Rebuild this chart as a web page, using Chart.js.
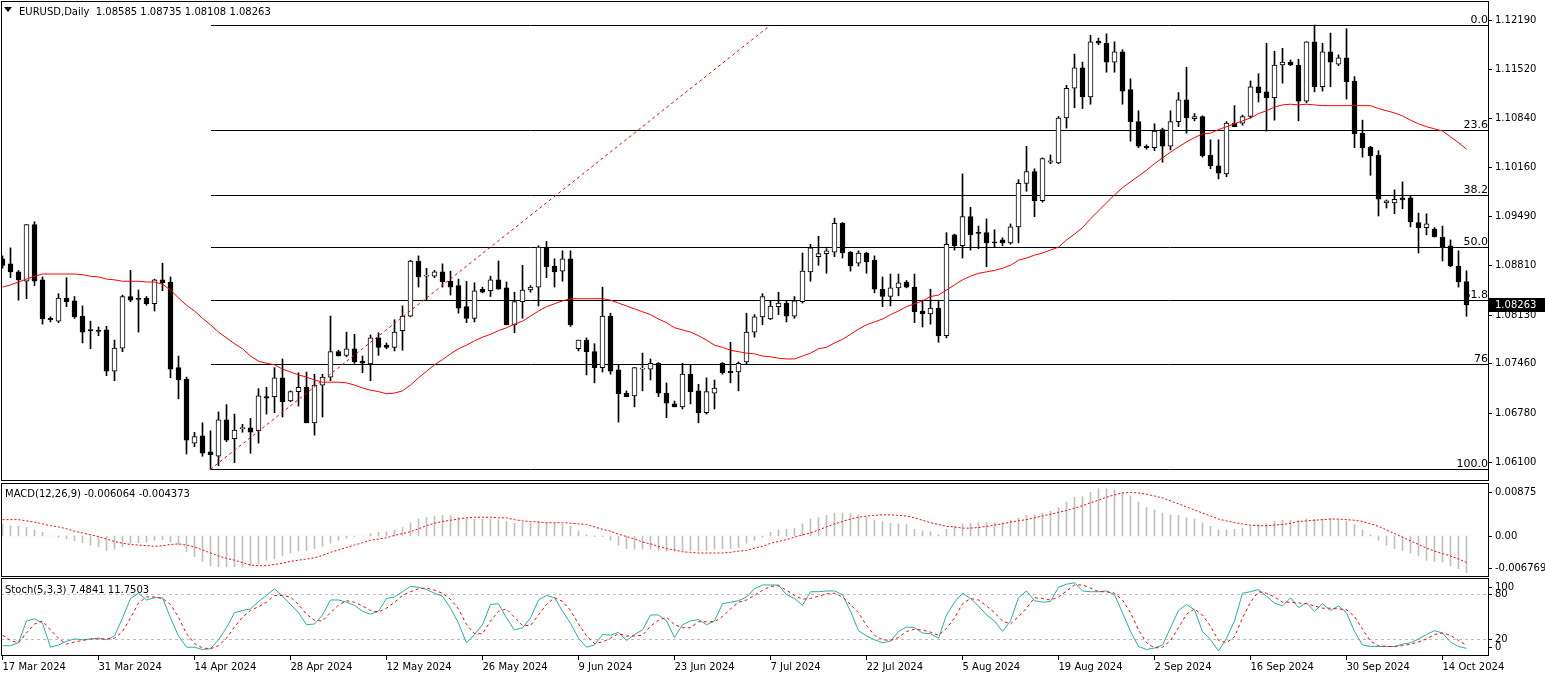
<!DOCTYPE html>
<html lang="en">
<head>
<meta charset="UTF-8">
<title>EURUSD Daily</title>
<script src="https://cdn.jsdelivr.net/npm/chart.js"></script>
<style>
    body { margin: 0; background: #fff; }
    .wrap { position: relative; width: 1545px; height: 673px; overflow: hidden; }
    canvas { position: absolute; left: 0; }
    #mainChart { top: 0; }
    #macdChart { top: 482px; }
    #stochChart { top: 578px; }
</style>
</head>
<body>
<div class="wrap">
    <canvas id="mainChart" width="1545" height="482"></canvas>
    <canvas id="macdChart" width="1545" height="96"></canvas>
    <canvas id="stochChart" width="1545" height="95"></canvas>
</div>
<script>
const FONT = '10px "DejaVu Sans"';

const dateTicks = ['17 Mar 2024', '31 Mar 2024', '14 Apr 2024', '28 Apr 2024', '12 May 2024', '26 May 2024',
    '9 Jun 2024', '23 Jun 2024', '7 Jul 2024', '22 Jul 2024', '5 Aug 2024', '19 Aug 2024',
    '2 Sep 2024', '16 Sep 2024', '30 Sep 2024', '14 Oct 2024'];

// daily candles, one entry per bar
const open = [
    1.0890,1.0883,1.0872,1.0859,1.0937,1.0861,1.0808,1.0804,1.0836,1.0832,
    1.0811,1.0792,1.0791,1.0792,1.0735,1.0767,1.0838,1.0835,1.0836,1.0828,
    1.0861,1.0858,1.0740,1.0724,1.0636,1.0646,1.0624,1.0618,1.0668,1.0642,
    1.0656,1.0657,1.0653,1.0700,1.0700,1.0726,1.0694,1.0707,1.0713,1.0664,
    1.0716,1.0727,1.0762,1.0757,1.0766,1.0749,1.0745,1.0781,1.0771,1.0768,
    1.0791,1.0811,1.0887,1.0866,1.0866,1.0872,1.0859,1.0853,1.0824,1.0808,
    1.0848,1.0846,1.0861,1.0850,1.0799,1.0831,1.0847,1.0851,1.0905,1.0880,
    1.0873,1.0890,1.0766,1.0778,1.0762,1.0740,1.0811,1.0737,1.0705,1.0701,
    1.0738,1.0738,1.0746,1.0705,1.0690,1.0686,1.0731,1.0708,1.0678,1.0705,
    1.0746,1.0735,1.0734,1.0748,1.0789,1.0810,1.0807,1.0824,1.0829,1.0811,
    1.0831,1.0872,1.0893,1.0897,1.0899,1.0939,1.0899,1.0884,1.0898,1.0888,
    1.0848,1.0838,1.0850,1.0858,1.0851,1.0818,1.0814,1.0822,1.0784,1.0923,
    1.0908,1.0948,1.0926,1.0926,1.0913,1.0916,1.0912,1.0934,1.0994,1.1010,
    1.0970,1.1023,1.1022,1.1084,1.1125,1.1153,1.1113,1.1190,1.1187,1.1161,
    1.1175,1.1123,1.1079,1.1045,1.1043,1.1068,1.1045,1.1079,1.1109,1.1083,
    1.1086,1.1033,1.1018,1.1007,1.1077,1.1077,1.1086,1.1127,1.1120,1.1112,
    1.1157,1.1161,1.1157,1.1107,1.1189,1.1127,1.1175,1.1158,1.1167,1.1135,
    1.1063,1.1044,1.1033,1.0967,1.0967,1.0974,1.0974,1.0940,1.0933,1.0931,
    1.0920,1.0908,1.0880,1.08585
];
const high = [
    1.0894,1.0905,1.0874,1.0937,1.0941,1.0865,1.0810,1.0842,1.0864,1.0838,
    1.0825,1.0804,1.0796,1.0797,1.0778,1.0840,1.0874,1.0847,1.0838,1.0862,
    1.0884,1.0865,1.0756,1.0727,1.0651,1.0664,1.0653,1.0679,1.0689,1.0676,
    1.0662,1.0670,1.0711,1.0713,1.0740,1.0752,1.0708,1.0733,1.0734,1.0731,
    1.0731,1.0811,1.0764,1.0789,1.0786,1.0756,1.0785,1.0788,1.0774,1.0806,
    1.0825,1.0888,1.0894,1.0877,1.0874,1.0883,1.0873,1.0862,1.0859,1.0857,
    1.0851,1.0866,1.0887,1.0858,1.0844,1.0881,1.0853,1.0908,1.0914,1.0890,
    1.0901,1.0901,1.0778,1.0781,1.0773,1.0851,1.0815,1.0744,1.0708,1.0740,
    1.0760,1.0752,1.0747,1.0719,1.0694,1.0746,1.0744,1.0717,1.0726,1.0723,
    1.0747,1.0775,1.0748,1.0815,1.0813,1.0842,1.0832,1.0844,1.0832,1.0838,
    1.0898,1.0910,1.0921,1.0904,1.0946,1.0940,1.0900,1.0901,1.0899,1.0894,
    1.0865,1.0869,1.0869,1.0860,1.0869,1.0833,1.0848,1.0833,1.0926,1.0924,
    1.1007,1.0961,1.0935,1.0945,1.0930,1.0919,1.0938,1.0999,1.1045,1.1014,
    1.1029,1.1033,1.1086,1.1129,1.1172,1.1161,1.1198,1.1194,1.1200,1.1189,
    1.1178,1.1138,1.1094,1.1047,1.1076,1.1070,1.1094,1.1119,1.1154,1.1090,
    1.1087,1.1054,1.1054,1.1079,1.1101,1.1088,1.1135,1.1145,1.1187,1.1176,
    1.1180,1.1164,1.1165,1.1189,1.1212,1.1187,1.1201,1.1171,1.1207,1.1141,
    1.1081,1.1045,1.1039,1.0971,1.0985,1.0996,1.0977,1.0953,1.0952,1.0933,
    1.0935,1.0916,1.0901,1.08735
];
const low = [
    1.0877,1.0864,1.0833,1.0835,1.0853,1.0800,1.0803,1.0802,1.0824,1.0808,
    1.0774,1.0766,1.0784,1.0729,1.0722,1.0762,1.0831,1.0789,1.0826,1.0818,
    1.0846,1.0726,1.0697,1.0621,1.0631,1.0618,1.0600,1.0605,1.0638,1.0609,
    1.0651,1.0622,1.0636,1.0676,1.0678,1.0672,1.0693,1.0687,1.0664,1.0647,
    1.0672,1.0722,1.0756,1.0755,1.0746,1.0733,1.0722,1.0757,1.0766,1.0763,
    1.0764,1.0810,1.0851,1.0833,1.0864,1.0851,1.0840,1.0815,1.0802,1.0803,
    1.0843,1.0838,1.0848,1.0799,1.0788,1.0808,1.0844,1.0825,1.0864,1.0851,
    1.0859,1.0797,1.0763,1.0730,1.0719,1.0734,1.0731,1.0665,1.0700,1.0686,
    1.0708,1.0723,1.0700,1.0671,1.0686,1.0683,1.0690,1.0664,1.0676,1.0683,
    1.0731,1.0719,1.0708,1.0745,1.0782,1.0799,1.0806,1.0813,1.0803,1.0808,
    1.0829,1.0859,1.0881,1.0870,1.0893,1.0891,1.0873,1.0880,1.0870,1.0843,
    1.0824,1.0825,1.0839,1.0850,1.0802,1.0796,1.0800,1.0775,1.0781,1.0902,
    1.0891,1.0902,1.0904,1.0879,1.0906,1.0908,1.0910,1.0912,1.0983,1.0948,
    1.0968,1.1021,1.1021,1.1070,1.1098,1.1097,1.1103,1.1185,1.1147,1.1147,
    1.1103,1.1052,1.1043,1.1041,1.1039,1.1023,1.1040,1.1072,1.1063,1.1080,
    1.1030,1.1014,1.1000,1.1003,1.1072,1.1074,1.1084,1.1106,1.1066,1.1081,
    1.1132,1.1156,1.1080,1.1105,1.1120,1.1121,1.1127,1.1156,1.1110,1.1043,
    1.1030,1.1005,1.0949,1.0960,1.0952,1.0959,1.0934,1.0898,1.0923,1.0920,
    1.0887,1.0879,1.0851,1.08108
];
const close = [
    1.0881,1.0872,1.0861,1.0937,1.0859,1.0807,1.0806,1.0836,1.0831,1.0810,
    1.0789,1.0791,1.0790,1.0735,1.0767,1.0838,1.0833,1.0834,1.0828,1.0861,
    1.0857,1.0738,1.0723,1.0640,1.0645,1.0622,1.0620,1.0668,1.0640,1.0654,
    1.0657,1.0651,1.0701,1.0698,1.0726,1.0693,1.0707,1.0713,1.0664,1.0716,
    1.0727,1.0762,1.0756,1.0766,1.0748,1.0746,1.0781,1.0768,1.0768,1.0789,
    1.0811,1.0887,1.0865,1.0867,1.0872,1.0858,1.0851,1.0822,1.0808,1.0846,
    1.0844,1.0861,1.0848,1.0799,1.0831,1.0847,1.0851,1.0906,1.0879,1.0872,
    1.0890,1.0799,1.0778,1.0762,1.0740,1.0811,1.0735,1.0704,1.0700,1.0740,
    1.0739,1.0746,1.0705,1.0691,1.0686,1.0731,1.0707,1.0678,1.0707,1.0712,
    1.0733,1.0733,1.0746,1.0789,1.0810,1.0838,1.0825,1.0829,1.0811,1.0832,
    1.0873,1.0905,1.0897,1.0901,1.0939,1.0898,1.0880,1.0898,1.0886,1.0848,
    1.0838,1.0850,1.0857,1.0851,1.0817,1.0814,1.0822,1.0784,1.0910,1.0908,
    1.0948,1.0923,1.0925,1.0912,1.0912,1.0912,1.0934,1.0994,1.1010,1.0970,
    1.1028,1.1025,1.1084,1.1125,1.1153,1.1113,1.1189,1.1187,1.1161,1.1175,
    1.1121,1.1079,1.1045,1.1043,1.1066,1.1045,1.1079,1.1109,1.1084,1.1086,
    1.1032,1.1018,1.1008,1.1077,1.1072,1.1086,1.1127,1.1119,1.1112,1.1157,
    1.1161,1.1157,1.1107,1.1189,1.1127,1.1175,1.1161,1.1167,1.1134,1.1062,
    1.1043,1.1032,1.0972,1.0970,1.0972,1.0971,1.0941,1.0933,1.0938,1.0920,
    1.0906,1.0880,1.0858,1.08263
];

// red moving average over the candles
const ma = [
    1.0851,1.0854,1.0858,1.0862,1.0866,1.0869,1.0869,1.0869,1.0869,1.0869,
    1.0868,1.0866,1.0865,1.0862,1.0861,1.0859,1.0859,1.0859,1.0858,1.0858,
    1.0855,1.0847,1.0836,1.0826,1.0818,1.0808,1.0799,1.0789,1.0781,1.0773,
    1.0766,1.0756,1.0749,1.0746,1.0744,1.0738,1.0734,1.0730,1.0727,1.0723,
    1.0720,1.0720,1.0720,1.0719,1.0716,1.0712,1.0709,1.0707,1.0704,1.0705,
    1.0708,1.0716,1.0726,1.0735,1.0744,1.0751,1.0759,1.0766,1.0771,1.0777,
    1.0782,1.0786,1.0791,1.0795,1.0800,1.0804,1.0811,1.0818,1.0824,1.0828,
    1.0832,1.0835,1.0835,1.0835,1.0835,1.0835,1.0833,1.0829,1.0825,1.0821,
    1.0817,1.0813,1.0807,1.0802,1.0795,1.0792,1.0789,1.0784,1.0778,1.0771,
    1.0768,1.0764,1.0762,1.0760,1.0759,1.0756,1.0755,1.0753,1.0752,1.0752,
    1.0756,1.0760,1.0766,1.0768,1.0774,1.0779,1.0786,1.0793,1.0799,1.0803,
    1.0807,1.0813,1.0818,1.0824,1.0828,1.0832,1.0838,1.0840,1.0847,1.0854,
    1.0861,1.0866,1.0870,1.0872,1.0874,1.0877,1.0881,1.0888,1.0891,1.0895,
    1.0898,1.0902,1.0906,1.0916,1.0924,1.0933,1.0945,1.0956,1.0967,1.0978,
    1.0988,1.0996,1.1004,1.1012,1.1021,1.1029,1.1037,1.1044,1.1051,1.1057,
    1.1062,1.1063,1.1068,1.1072,1.1076,1.1080,1.1084,1.1090,1.1094,1.1099,
    1.1102,1.1103,1.1102,1.1103,1.1102,1.1101,1.1101,1.1101,1.1101,1.1101,
    1.1101,1.1101,1.1097,1.1094,1.1091,1.1087,1.1081,1.1076,1.1072,1.1069,
    1.1066,1.1058,1.1050,1.1041
];

// MACD(12,26,9): main as histogram, signal as dotted line
const macd = [
    0.0020,0.0017,0.0016,0.0014,0.0010,0.0006,0.0000,-0.0002,-0.0005,-0.0008,
    -0.0011,-0.0015,-0.0018,-0.0024,-0.0022,-0.0018,-0.0012,-0.0011,-0.0010,-0.0007,
    -0.0006,-0.0010,-0.0015,-0.0026,-0.0034,-0.0042,-0.0049,-0.0051,-0.0051,-0.0051,
    -0.0051,-0.0049,-0.0046,-0.0040,-0.0038,-0.0032,-0.0028,-0.0025,-0.0024,-0.0021,
    -0.0017,-0.0012,-0.0007,-0.0004,-0.0001,0.0000,0.0004,0.0006,0.0007,0.0010,
    0.0014,0.0022,0.0028,0.0031,0.0033,0.0034,0.0034,0.0031,0.0030,0.0028,
    0.0028,0.0028,0.0027,0.0024,0.0021,0.0022,0.0022,0.0024,0.0022,0.0021,
    0.0019,0.0016,0.0009,0.0002,-0.0001,-0.0001,-0.0007,-0.0015,-0.0021,-0.0022,
    -0.0022,-0.0022,-0.0024,-0.0025,-0.0025,-0.0024,-0.0024,-0.0025,-0.0024,-0.0022,
    -0.0021,-0.0021,-0.0019,-0.0012,-0.0007,-0.0002,0.0006,0.0010,0.0011,0.0013,
    0.0020,0.0028,0.0031,0.0034,0.0038,0.0038,0.0037,0.0035,0.0031,0.0026,
    0.0024,0.0021,0.0020,0.0019,0.0011,0.0009,0.0007,0.0002,0.0011,0.0016,
    0.0020,0.0021,0.0022,0.0022,0.0022,0.0022,0.0026,0.0030,0.0034,0.0035,
    0.0038,0.0041,0.0047,0.0056,0.0064,0.0065,0.0072,0.0078,0.0078,0.0076,
    0.0072,0.0066,0.0056,0.0047,0.0043,0.0038,0.0035,0.0034,0.0030,0.0028,
    0.0022,0.0016,0.0010,0.0010,0.0011,0.0013,0.0016,0.0019,0.0021,0.0024,
    0.0026,0.0026,0.0026,0.0028,0.0028,0.0028,0.0028,0.0027,0.0024,0.0019,
    0.0010,0.0002,-0.0007,-0.0015,-0.0021,-0.0024,-0.0028,-0.0032,-0.0040,-0.0042,
    -0.0043,-0.0049,-0.0054,-0.006064
];
const signal = [
    0.0027,0.0027,0.0027,0.0025,0.0023,0.0020,0.0017,0.0015,0.0012,0.0008,
    0.0005,0.0002,-0.0001,-0.0005,-0.0009,-0.0012,-0.0014,-0.0015,-0.0016,-0.0017,
    -0.0016,-0.0014,-0.0013,-0.0015,-0.0018,-0.0023,-0.0028,-0.0033,-0.0037,-0.0040,
    -0.0044,-0.0048,-0.0049,-0.0049,-0.0047,-0.0045,-0.0042,-0.0040,-0.0038,-0.0036,
    -0.0032,-0.0027,-0.0023,-0.0019,-0.0015,-0.0011,-0.0007,-0.0005,-0.0003,0.0001,
    0.0004,0.0007,0.0012,0.0017,0.0021,0.0024,0.0026,0.0028,0.0030,0.0031,
    0.0031,0.0031,0.0030,0.0030,0.0027,0.0025,0.0024,0.0023,0.0022,0.0022,
    0.0022,0.0021,0.0020,0.0019,0.0015,0.0011,0.0008,0.0003,-0.0001,-0.0005,
    -0.0010,-0.0013,-0.0017,-0.0021,-0.0023,-0.0026,-0.0027,-0.0028,-0.0028,-0.0028,
    -0.0028,-0.0027,-0.0025,-0.0024,-0.0020,-0.0017,-0.0012,-0.0009,-0.0006,-0.0002,
    0.0002,0.0005,0.0010,0.0015,0.0020,0.0024,0.0028,0.0031,0.0033,0.0034,
    0.0035,0.0035,0.0034,0.0033,0.0030,0.0026,0.0022,0.0019,0.0016,0.0015,
    0.0013,0.0013,0.0014,0.0016,0.0018,0.0020,0.0023,0.0025,0.0027,0.0030,
    0.0033,0.0036,0.0039,0.0042,0.0046,0.0050,0.0055,0.0059,0.0064,0.0068,
    0.0071,0.0072,0.0071,0.0069,0.0066,0.0063,0.0058,0.0053,0.0048,0.0043,
    0.0038,0.0033,0.0028,0.0025,0.0022,0.0020,0.0018,0.0017,0.0017,0.0018,
    0.0019,0.0021,0.0024,0.0025,0.0026,0.0027,0.0028,0.0028,0.0027,0.0026,
    0.0024,0.0020,0.0016,0.0010,0.0004,-0.0002,-0.0008,-0.0014,-0.0020,-0.0025,
    -0.0029,-0.0033,-0.0038,-0.004373
];

// Stochastic(5,3,3)
const stochK = [
    11,11,15,44,47,41,9,12,17,20,
    19,20,21,19,24,48,74,81,72,75,
    75,48,24,9,9,6,7,19,35,55,
    58,60,70,78,87,77,66,55,39,40,
    52,72,72,69,65,57,53,57,74,76,
    83,90,89,86,81,77,61,41,15,26,
    39,66,67,48,32,35,48,72,78,75,
    57,41,21,9,12,26,25,29,18,26,
    32,52,52,44,22,39,44,46,39,44,
    67,69,71,76,87,92,92,92,79,74,
    65,83,83,84,84,79,57,31,24,19,
    15,17,30,36,35,28,27,21,52,69,
    81,74,64,52,44,30,44,75,84,71,
    69,70,89,93,95,84,83,83,84,79,
    55,30,10,6,8,12,35,58,66,59,
    30,19,4,21,44,81,83,86,77,68,
    64,75,62,68,57,67,58,64,55,30,
    12,10,10,10,10,13,15,20,26,31,
    28,16,10,7.4841
];
const stochD = [
    25,18,15,28,40,44,32,21,13,16,
    18,20,20,20,21,30,48,68,76,76,
    74,66,49,27,14,8,7,11,21,36,
    49,58,63,69,78,78,76,66,53,45,
    44,55,65,71,69,64,58,56,61,69,
    78,83,87,88,85,81,73,60,39,27,
    27,44,57,60,49,38,38,52,66,75,
    70,58,40,24,14,16,21,27,24,24,
    25,37,45,49,39,35,35,43,43,43,
    50,60,69,72,78,85,90,91,85,78,
    73,74,77,80,81,76,66,55,38,25,
    19,18,22,30,33,32,29,25,34,48,
    67,74,72,64,55,44,40,50,61,75,
    74,72,76,84,92,92,88,83,83,81,
    72,55,32,15,8,9,18,35,53,60,
    52,37,18,15,23,48,69,83,81,76,
    69,69,68,67,64,61,61,60,59,50,
    33,17,11,10,10,11,13,16,20,26,
    28,25,18,11.7503
];
const stochLevels = [20, 80];

// Fibonacci retracement drawn on the price panel
const fibLevels = [0, 23.6, 38.2, 50, 61.8, 76.4, 100];
const fibText = ['0.0', '23.6', '38.2', '50.0', '61.8', '76', '100.0'];
const fibLow = 1.0600, fibHigh = 1.1212;
const fibFromBar = 26, fibToBar = 96;

const priceTicks = [1.12190, 1.11520, 1.10840, 1.10160, 1.09490, 1.08810, 1.08130, 1.07460, 1.06780, 1.06100];
const macdTicks = [0.00875, 0, -0.006769];
const macdTickText = ['0.00875', '0.00', '-0.006769'];
const stochTicks = [100, 80, 20, 0];

const last = close.length - 1;
const bars = close.map((_, i) => i);
const bodyColors = close.map((c, i) => c >= open[i] ? '#ffffff' : '#000000');

// ---- plugins ----
const frame = {
    id: 'frame',
    afterDraw(chart) {
        const { ctx, chartArea: a } = chart;
        ctx.save();
        ctx.strokeStyle = '#000';
        ctx.lineWidth = 1;
        ctx.strokeRect(a.left + 0.5, a.top + 0.5, a.right - a.left - 1, a.bottom - a.top - 1);
        ctx.restore();
    }
};

function sideLabels(items, pad, marker) {
    return {
        id: 'sideLabels',
        afterDraw(chart) {
            const { ctx, chartArea: a } = chart;
            const y = chart.scales.y;
            ctx.save();
            ctx.font = FONT;
            ctx.textBaseline = 'middle';
            ctx.fillStyle = '#000';
            ctx.strokeStyle = '#000';
            ctx.lineWidth = 1;
            items.forEach(it => {
                let py = Math.round(y.getPixelForValue(it.value));
                py = Math.max(a.top + pad, Math.min(a.bottom - pad, py));
                ctx.beginPath();
                ctx.moveTo(a.right, py + 0.5);
                ctx.lineTo(a.right + 3, py + 0.5);
                ctx.stroke();
                ctx.fillText(it.text, a.right + 6, py);
            });
            if (marker) {
                const py = Math.round(y.getPixelForValue(marker.value));
                ctx.fillStyle = '#000';
                ctx.fillRect(a.right, py - 7, chart.width - a.right, 14);
                ctx.fillStyle = '#fff';
                ctx.fillText(marker.text, a.right + 6, py);
            }
            ctx.restore();
        }
    };
}

function caption(text, x, arrow) {
    return {
        id: 'caption',
        afterDraw(chart) {
            const { ctx } = chart;
            ctx.save();
            ctx.fillStyle = '#000';
            if (arrow) {
                ctx.beginPath();
                ctx.moveTo(4, 7);
                ctx.lineTo(12, 7);
                ctx.lineTo(8, 12);
                ctx.closePath();
                ctx.fill();
            }
            ctx.font = FONT;
            ctx.textBaseline = 'middle';
            ctx.fillText(text, x, 12);
            ctx.restore();
        }
    };
}

const fibo = {
    id: 'fibo',
    beforeDatasetsDraw(chart) {
        const { ctx, chartArea: a, scales: { x, y } } = chart;
        const x0 = Math.round(x.getPixelForValue(fibFromBar));
        ctx.save();
        ctx.beginPath();
        ctx.rect(a.left, a.top, a.right - a.left, a.bottom - a.top);
        ctx.clip();
        ctx.strokeStyle = '#000';
        ctx.lineWidth = 1;
        ctx.font = '11px "DejaVu Sans"';
        ctx.fillStyle = '#000';
        ctx.textAlign = 'right';
        ctx.textBaseline = 'alphabetic';
        fibLevels.forEach((lv, k) => {
            const v = fibHigh - (fibHigh - fibLow) * lv / 100;
            const py = Math.round(y.getPixelForValue(v)) + 0.5;
            ctx.beginPath();
            ctx.moveTo(x0, py);
            ctx.lineTo(a.right, py);
            ctx.stroke();
            ctx.fillText(fibText[k], a.right - 1, py - 2.5);
        });
        ctx.restore();
    }
};

function levels(values) {
    return {
        id: 'levels',
        beforeDatasetsDraw(chart) {
            const { ctx, chartArea: a, scales: { y } } = chart;
            ctx.save();
            ctx.strokeStyle = '#c0c0c0';
            ctx.lineWidth = 1;
            ctx.setLineDash([3, 3]);
            values.forEach(v => {
                const py = Math.round(y.getPixelForValue(v)) + 0.5;
                ctx.beginPath();
                ctx.moveTo(a.left, py);
                ctx.lineTo(a.right, py);
                ctx.stroke();
            });
            ctx.restore();
        }
    };
}

// ---- shared scales ----
function xScale(show) {
    return {
        type: 'linear',
        position: 'bottom',
        min: -0.1875,
        max: 185.8125,
        offset: false,
        display: show,
        grid: { display: show, offset: false, drawOnChartArea: false, drawTicks: true, tickLength: 4, color: '#000' },
        border: { display: false },
        ticks: {
            stepSize: 12,
            includeBounds: false,
            autoSkip: false,
            maxRotation: 0,
            minRotation: 0,
            align: 'start',
            padding: 1,
            color: '#000',
            font: { family: 'DejaVu Sans', size: 10 },
            callback: v => v % 12 === 0 ? (dateTicks[v / 12] || '') : ''
        },
        afterFit: s => { s.height = show ? 17 : 0; }
    };
}

function yScale(min, max) {
    return {
        type: 'linear',
        position: 'right',
        min: min,
        max: max,
        beginAtZero: false,
        grid: { display: false },
        border: { display: false },
        ticks: { display: false },
        afterFit: s => { s.width = 56; }
    };
}

const baseOptions = {
    responsive: false,
    animation: false,
    devicePixelRatio: 1,
    events: []
};

// ---- price panel ----
new Chart(document.getElementById('mainChart'), {
    type: 'bar',
    data: {
        datasets: [
            {
                type: 'line',
                data: ma.map((v, i) => ({ x: i, y: v })),
                borderColor: '#ff0000',
                borderWidth: 1,
                pointRadius: 0,
                order: 0
            },
            {
                type: 'line',
                data: [{ x: fibFromBar, y: fibLow }, { x: fibToBar, y: fibHigh }],
                borderColor: '#ff0000',
                borderWidth: 1,
                borderDash: [3, 3],
                pointRadius: 0,
                order: 0
            },
            {
                data: bars.map(i => ({ x: i, y: [open[i], close[i]] })),
                backgroundColor: bodyColors,
                borderColor: '#000000',
                borderWidth: 1,
                borderSkipped: false,
                barThickness: 5,
                minBarLength: 1,
                grouped: false,
                order: 1
            },
            {
                data: bars.map(i => ({ x: i, y: [low[i], high[i]] })),
                backgroundColor: '#000000',
                barThickness: 1,
                grouped: false,
                order: 2
            }
        ]
    },
    options: {
        ...baseOptions,
        layout: { padding: { left: 1, top: 1, right: 0, bottom: 1 } },
        plugins: { legend: { display: false }, tooltip: { enabled: false } },
        scales: { x: xScale(false), y: yScale(1.058382, 1.124518) }
    },
    plugins: [
        fibo,
        frame,
        sideLabels(priceTicks.map(v => ({ value: v, text: v.toFixed(5) })), 6,
            { value: close[last], text: close[last].toFixed(5) }),
        caption('EURUSD,Daily  ' + [open[last], high[last], low[last], close[last]].map(v => v.toFixed(5)).join(' '), 19, true)
    ]
});

// ---- MACD panel ----
new Chart(document.getElementById('macdChart'), {
    type: 'bar',
    data: {
        datasets: [
            {
                type: 'line',
                data: signal.map((v, i) => ({ x: i, y: v })),
                borderColor: '#ff0000',
                borderWidth: 1,
                borderDash: [2, 2],
                pointRadius: 0,
                order: 0
            },
            {
                data: macd.map((v, i) => ({ x: i, y: v })),
                backgroundColor: '#c0c0c0',
                barThickness: 1,
                grouped: false,
                order: 1
            }
        ]
    },
    options: {
        ...baseOptions,
        layout: { padding: { left: 1, top: 1, right: 0, bottom: 1 } },
        plugins: { legend: { display: false }, tooltip: { enabled: false } },
        scales: { x: xScale(false), y: yScale(-0.006769, 0.00875) }
    },
    plugins: [
        frame,
        sideLabels(macdTicks.map((v, k) => ({ value: v, text: macdTickText[k] })), 9),
        caption('MACD(12,26,9) ' + macd[last].toFixed(6) + ' ' + signal[last].toFixed(6), 5, false)
    ]
});

// ---- Stochastic panel ----
new Chart(document.getElementById('stochChart'), {
    type: 'line',
    data: {
        datasets: [
            {
                data: stochD.map((v, i) => ({ x: i, y: v })),
                borderColor: '#ff0000',
                borderWidth: 1,
                borderDash: [3, 3],
                pointRadius: 0,
                order: 0
            },
            {
                data: stochK.map((v, i) => ({ x: i, y: v })),
                borderColor: '#20b2aa',
                borderWidth: 1,
                pointRadius: 0,
                order: 1
            }
        ]
    },
    options: {
        ...baseOptions,
        layout: { padding: { left: 1, top: 0, right: 0, bottom: 0 } },
        plugins: { legend: { display: false }, tooltip: { enabled: false } },
        scales: { x: xScale(true), y: yScale(-2.7, 101.3) }
    },
    plugins: [
        levels(stochLevels),
        frame,
        sideLabels(stochTicks.map(v => ({ value: v, text: String(v) })), 9),
        caption('Stoch(5,3,3) ' + stochK[last].toFixed(4) + ' ' + stochD[last].toFixed(4), 5, false)
    ]
});
</script>
</body>
</html>
